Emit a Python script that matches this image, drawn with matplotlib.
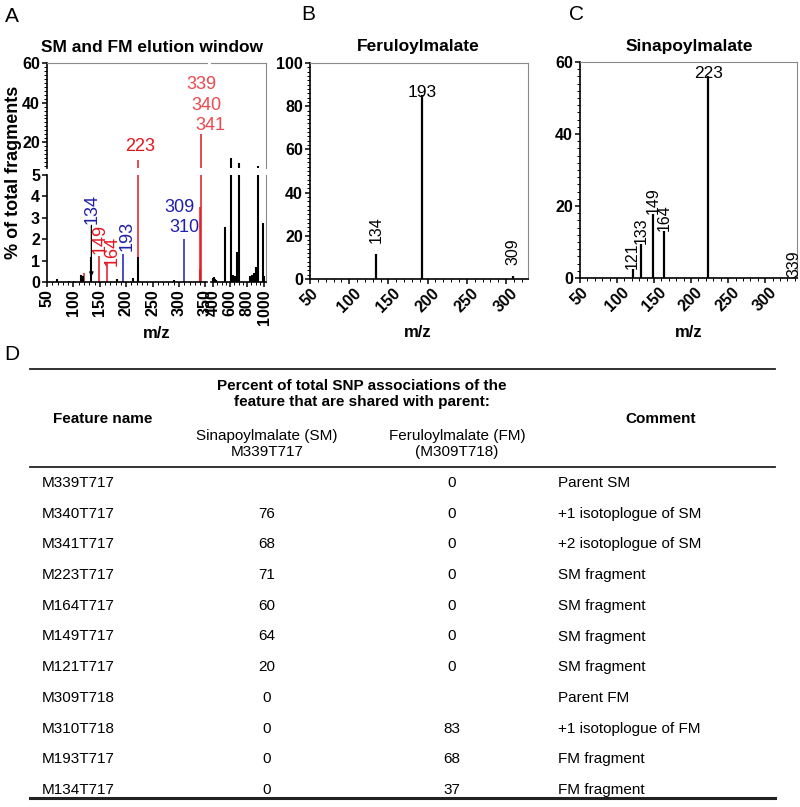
import matplotlib
matplotlib.use('Agg')
import matplotlib.pyplot as plt
from matplotlib.ticker import MultipleLocator
from matplotlib.lines import Line2D

plt.rcParams['font.family'] = ['Liberation Sans', 'DejaVu Sans']

# ---- data ----
# panel A, SM and FM elution window (m/z, % of total fragments)
a_black_mz = [69, 92, 102, 115, 118, 134, 183, 212, 223, 290,
              400, 410, 425, 440, 541, 608, 625, 640, 660, 679, 706,
              840, 860, 880, 906, 929, 988, 1000]
a_black_int = [0.12, 0.05, 0.06, 0.35, 0.3, 1.15, 0.15, 0.2, 1.15, 0.1,
               0.2, 0.25, 0.15, 0.1, 2.57, 12, 0.3, 0.35, 0.3, 1.4, 9.5,
               0.3, 0.35, 0.4, 0.7, 8, 2.75, 0.3]
a_red_mz = [121, 149, 164, 223, 339, 340, 341]
a_red_int = [0.4, 1.2, 0.9, 11, 0.6, 3.5, 24]
a_blue_mz = [193, 310]
a_blue_int = [1.3, 2.0]

# panel B, Feruloylmalate
b_mz = [134, 193, 309]
b_int = [11.5, 85, 1.2]

# panel C, Sinapoylmalate
c_mz = [121, 133, 149, 164, 223, 339]
c_int = [2.5, 9.5, 17.7, 13, 56, 0.3]

# panel D table
features = ['M339T717', 'M340T717', 'M341T717', 'M223T717', 'M164T717', 'M149T717',
            'M121T717', 'M309T718', 'M310T718', 'M193T717', 'M134T717']
sm_shared = ['', '76', '68', '71', '60', '64', '20', '0', '0', '0', '0']
fm_shared = ['0', '0', '0', '0', '0', '0', '0', '', '83', '68', '37']
comments = ['Parent SM', '+1 isotoplogue of SM', '+2 isotoplogue of SM', 'SM fragment',
            'SM fragment', 'SM fragment', 'SM fragment', 'Parent FM',
            '+1 isotoplogue of FM', 'FM fragment', 'FM fragment']

RED = '#e3171f'
LRED = '#ea4a4f'
BLUE = '#1f1fa8'
GREY = '#8a8a8a'

W, H = 800, 807
fig = plt.figure(figsize=(8, 8.07), dpi=100)


def add_ax(x0, y0, x1, y1):
    return fig.add_axes([x0 / W, 1 - y1 / H, (x1 - x0) / W, (y1 - y0) / H])


def ftext(x, y, s, **kw):
    return fig.text(x / W, 1 - y / H, s, **kw)


def style_spines(ax, show):
    for side in ['left', 'bottom', 'top', 'right']:
        sp = ax.spines[side]
        sp.set_visible(side in show)
        if side in ('left', 'bottom'):
            sp.set_linewidth(1.2)
        else:
            sp.set_linewidth(0.8)
            sp.set_color(GREY)
    ax.tick_params(which='major', direction='out', length=3.5, width=1.1, pad=1.5)
    ax.tick_params(which='minor', direction='out', length=2, width=0.7)


# ---- panel A : broken axes ----
ax_ul = add_ax(47, 63, 207, 168)
ax_ur = add_ax(211, 63, 266, 168)
ax_ll = add_ax(47, 175, 207, 282)
ax_lr = add_ax(211, 175, 266, 282)

for ax in [ax_ul, ax_ur, ax_ll, ax_lr]:
    ax.vlines(a_red_mz, 0, a_red_int, color=RED, lw=1.1)
    ax.vlines(a_blue_mz, 0, a_blue_int, color=BLUE, lw=1.1)
    ax.vlines(a_black_mz, 0, a_black_int, color='black', lw=1.5)
    ax.set_facecolor('none')

for ax in [ax_ul, ax_ll]:
    ax.set_xlim(50, 353)
for ax in [ax_ur, ax_lr]:
    ax.set_xlim(376, 1023)
for ax in [ax_ul, ax_ur]:
    ax.set_ylim(7, 60)
for ax in [ax_ll, ax_lr]:
    ax.set_ylim(0, 5)

style_spines(ax_ul, ['left', 'top'])
style_spines(ax_ur, ['top', 'right'])
style_spines(ax_ll, ['left', 'bottom'])
style_spines(ax_lr, ['bottom', 'right'])

ax_ul.set_xticks([])
ax_ul.set_yticks([20, 40, 60], labels=['20', '40', '60'], fontweight='bold', fontsize=11.5)
ax_ul.yaxis.set_minor_locator(MultipleLocator(2))
ax_ur.set_xticks([])
ax_ur.set_yticks([])
ax_ll.set_yticks(range(0, 6), labels=[str(v) for v in range(0, 6)], fontweight='bold', fontsize=11.5)
ax_ll.set_xticks(range(50, 351, 50), labels=[str(v) for v in range(50, 351, 50)],
                 fontweight='bold', fontsize=11.5, rotation=90)
ax_ll.xaxis.set_minor_locator(MultipleLocator(10))
ax_lr.set_yticks([])
ax_lr.set_xticks([400, 600, 800, 1000], labels=['400', '600', '800', '1000'],
                 fontweight='bold', fontsize=11.5, rotation=90)
ax_lr.xaxis.set_minor_locator(MultipleLocator(50))

# pointer arrow on 134
ax_ll.annotate('', xy=(134, 0.25), xytext=(134, 2.65),
               arrowprops=dict(arrowstyle='-|>', color='black', lw=0.9, mutation_scale=6,
                               shrinkA=0, shrinkB=0))

lab = dict(fontsize=13, ha='center')
ax_ll.text(135, 2.7, '134', color=BLUE, rotation=90, va='bottom', **lab)
ax_ll.text(150, 1.3, '149', color=RED, rotation=90, va='bottom', **lab)
ax_ll.text(174, 0.75, '164', color=RED, rotation=90, va='bottom', **lab)
ax_ll.text(201, 1.45, '193', color=BLUE, rotation=90, va='bottom', **lab)
ax_ll.text(300, 3.5, '309', color=BLUE, va='center', **lab)
ax_ll.text(311, 2.57, '310', color=BLUE, va='center', **lab)
ax_ul.text(226, 13.5, '223', color=RED, va='bottom', **lab)
ax_ul.text(342, 48.9, '339', color=LRED, va='center', **lab)
ax_ul.text(351, 38.3, '340', color=LRED, va='center', **lab)
ax_ul.text(360, 28.2, '341', color=LRED, va='center', **lab)

ftext(14, 172, '% of total fragments', rotation=90, fontsize=13, fontweight='bold',
      ha='center', va='center')
ftext(152, 47, 'SM and FM elution window', fontsize=12.5, fontweight='bold', ha='center', va='center')
ftext(157, 333, 'm/z', fontsize=12, fontweight='bold', ha='center', va='center')
ftext(12, 17, 'A', fontsize=15, ha='center', va='center')


# ---- panels B and C ----
def spectrum(ax, mz, inten, xlim, ylim, ystep, title, xc, letter, letter_x, label_off):
    ax.vlines(mz, 0, inten, color='black', lw=1.6)
    ax.set_xlim(*xlim)
    ax.set_ylim(*ylim)
    style_spines(ax, ['left', 'bottom', 'top', 'right'])
    xt = list(range(50, 301, 50))
    ax.set_xticks(xt, labels=[str(v) for v in xt], fontweight='bold', fontsize=11.5, rotation=45)
    yt = list(range(0, ylim[1] + 1, ystep))
    ax.set_yticks(yt, labels=[str(v) for v in yt], fontweight='bold', fontsize=11.5)
    ax.xaxis.set_minor_locator(MultipleLocator(10))
    ax.yaxis.set_minor_locator(MultipleLocator(2))
    top = max(inten)
    for m, v in zip(mz, inten):
        if v == top:
            ax.annotate(str(m), (m, v), xytext=(0, -3), textcoords='offset points',
                        ha='center', va='bottom', fontsize=12.5)
        else:
            ax.annotate(str(m), (m, v), xytext=(0, label_off), textcoords='offset points',
                        ha='center', va='bottom', rotation=90, fontsize=11.5)
    ftext(xc, 47, title, fontsize=12.5, fontweight='bold', ha='center', va='center')
    ftext(xc, 332, 'm/z', fontsize=12, fontweight='bold', ha='center', va='center')
    ftext(letter_x, 15, letter, fontsize=15, ha='center', va='center')


ax_b = add_ax(310, 63, 528, 279)
spectrum(ax_b, b_mz, b_int, (50, 328), (0, 100), 20, 'Feruloylmalate', 418, 'B', 308, 8)
ax_c = add_ax(580, 62, 797, 278)
spectrum(ax_c, c_mz, c_int, (50, 343), (0, 60), 20, 'Sinapoylmalate', 689, 'C', 577, 0)

# ---- panel D : table ----
ftext(12, 355, 'D', fontsize=15, ha='center', va='center')
for yy, lw in [(369, 1.3), (467, 1.3), (798, 2.2)]:
    fig.add_artist(Line2D([30 / W, 775 / W], [1 - yy / H, 1 - yy / H], color='#222222', lw=lw))

hdr = dict(fontsize=11, fontweight='bold', ha='center', va='center')
ftext(103, 419, 'Feature name', **hdr)
ftext(362, 394, 'Percent of total SNP associations of the\nfeature that are shared with parent:',
      linespacing=1.25, **hdr)
ftext(661, 419, 'Comment', **hdr)
ftext(267, 444, 'Sinapoylmalate (SM)\nM339T717', fontsize=11, ha='center', va='center', linespacing=1.15)
ftext(457, 444, 'Feruloylmalate (FM)\n(M309T718)', fontsize=11, ha='center', va='center', linespacing=1.15)

for i, (f, s, m, c) in enumerate(zip(features, sm_shared, fm_shared, comments)):
    y = 483 + i * 30.7
    ftext(42, y, f, fontsize=11, ha='left', va='center')
    ftext(267, y, s, fontsize=11, ha='center', va='center')
    ftext(452, y, m, fontsize=11, ha='center', va='center')
    ftext(558, y, c, fontsize=11, ha='left', va='center')

fig.savefig('out.png', dpi=100)
